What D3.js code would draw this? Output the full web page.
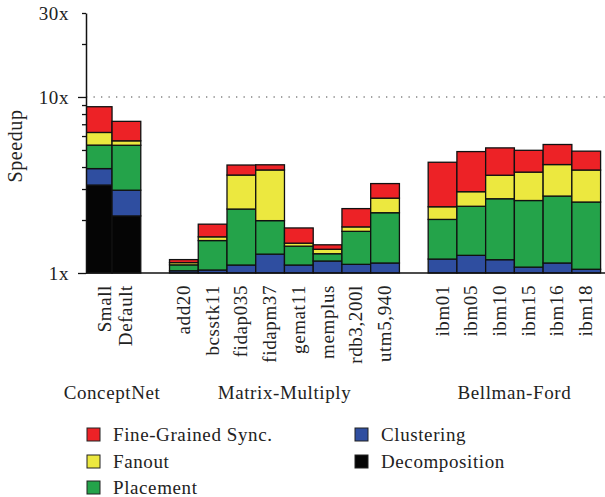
<!DOCTYPE html>
<html>
<head>
<meta charset="utf-8">
<script src="https://cdn.jsdelivr.net/npm/d3@7/dist/d3.min.js"></script>
<style>
  html, body { margin: 0; padding: 0; background: #fff; }
  svg { display: block; }
  text { font-family: "Liberation Serif", "DejaVu Serif", serif; fill: #222; letter-spacing: 0.6px; }
</style>
</head>
<body>
<svg id="chart" width="605" height="497"></svg>
<script>
// Benchmarks, grouped by application; a spacer slot separates the groups
const groups = [
  { name: "ConceptNet", benchmarks: ["Small", "Default"] },
  { name: "Matrix-Multiply", benchmarks: ["add20", "bcsstk11", "fidap035", "fidapm37", "gemat11", "memplus", "rdb3,200l", "utm5,940"] },
  { name: "Bellman-Ford", benchmarks: ["ibm01", "ibm05", "ibm10", "ibm15", "ibm16", "ibm18"] }
];

// Series, stacked bottom to top; each value is the multiplicative speedup added by that technique
const seriesNames = ["Decomposition", "Clustering", "Placement", "Fanout", "Fine-Grained Sync."];
const seriesColors = ["#050505", "#2f4ea0", "#24a34a", "#ece83f", "#ed2226"];

const decomposition = [3.16, 2.11, 1, 1, 1, 1, 1, 1, 1, 1, 1, 1, 1, 1, 1, 1];
const clustering    = [1.24, 1.40, 1.03, 1.04, 1.11, 1.28, 1.11, 1.17, 1.12, 1.14, 1.20, 1.26, 1.19, 1.08, 1.14, 1.05];
const placement     = [1.36, 1.80, 1.08, 1.47, 2.08, 1.55, 1.28, 1.10, 1.54, 1.93, 1.68, 1.90, 2.22, 2.39, 2.40, 2.41];
const fanout        = [1.18, 1.06, 1.03, 1.05, 1.56, 1.94, 1.04, 1.06, 1.06, 1.21, 1.18, 1.21, 1.36, 1.45, 1.51, 1.52];
const fineGrained   = [1.40, 1.29, 1.04, 1.18, 1.14, 1.07, 1.22, 1.06, 1.27, 1.21, 1.79, 1.69, 1.43, 1.33, 1.30, 1.28];

const yTickValues = [1, 2, 3, 4, 5, 6, 7, 8, 9, 10, 20, 30];
const yTickLabels = { 1: "1x", 10: "10x", 30: "30x" };
const yLabel = "Speedup";

// ---- layout ----
const svg = d3.select("#chart");
const axisX = 86, baseY = 273, topY = 13;
const fontSize = 19;

const slots = [];
groups.forEach((g, gi) => {
  if (gi > 0) slots.push("gap" + gi);
  g.benchmarks.forEach(b => slots.push(b));
});
const benchmarks = groups.flatMap(g => g.benchmarks);

const x = d3.scaleBand().domain(slots).range([83.3, 600.6]).padding(0);
const y = d3.scaleLog().domain([1, 30]).range([baseY, topY]);

// stacked (cumulative product) levels per benchmark
const factorSeries = [decomposition, clustering, placement, fanout, fineGrained];
const segments = [];
benchmarks.forEach((b, i) => {
  let level = 1;
  factorSeries.forEach((arr, s) => {
    const lo = level;
    level = level * arr[i];
    if (arr[i] > 1.0001) segments.push({ bench: b, series: s, lo, hi: level });
  });
});

// clip so the first bar sits against the axis
svg.append("defs").append("clipPath").attr("id", "plotClip")
  .append("rect").attr("x", axisX).attr("y", 0).attr("width", 605 - axisX).attr("height", baseY + 1);

// dotted reference line at 10x
svg.append("line")
  .attr("x1", axisX).attr("x2", 605)
  .attr("y1", y(10)).attr("y2", y(10))
  .attr("stroke", "#444").attr("stroke-width", 1.2)
  .attr("stroke-dasharray", "1.3,6.2");

// bars
svg.append("g").attr("clip-path", "url(#plotClip)")
  .selectAll("rect").data(segments).join("rect")
  .attr("x", d => x(d.bench))
  .attr("width", x.bandwidth())
  .attr("y", d => y(d.hi))
  .attr("height", d => y(d.lo) - y(d.hi))
  .attr("fill", d => seriesColors[d.series])
  .attr("stroke", "#111")
  .attr("stroke-width", 1.3);

// y axis
const yAxis = d3.axisLeft(y)
  .tickValues(yTickValues)
  .tickSizeInner(4).tickSizeOuter(0).tickPadding(13)
  .tickFormat(v => yTickLabels[v] || "");
const yg = svg.append("g").attr("transform", `translate(${axisX},0)`).call(yAxis);
yg.select(".domain").attr("stroke", "#111").attr("stroke-width", 1.5);
yg.selectAll(".tick line").attr("stroke", "#111").attr("stroke-width", 1.3)
  .attr("x2", v => (v === 1 || v === 10) ? -8 : -4);
yg.selectAll(".tick text")
  .attr("font-family", "Liberation Serif, DejaVu Serif, serif")
  .attr("font-size", fontSize).attr("fill", "#222");

// baseline
svg.append("line")
  .attr("x1", axisX).attr("x2", 605)
  .attr("y1", baseY).attr("y2", baseY)
  .attr("stroke", "#111").attr("stroke-width", 1.5);

// y label
svg.append("text")
  .attr("transform", `translate(22,146) rotate(-90)`)
  .attr("text-anchor", "middle")
  .attr("font-size", 20)
  .text(yLabel);

// benchmark labels
svg.append("g").selectAll("text").data(benchmarks).join("text")
  .attr("transform", (d, i) => {
    const cx = x(d) + x.bandwidth() / 2 + 6 + (i === 0 ? 7 : 0);
    return `translate(${cx},285) rotate(-90)`;
  })
  .attr("text-anchor", "end")
  .attr("font-size", fontSize)
  .text(d => d);

// group labels
svg.append("g").selectAll("text").data(groups).join("text")
  .attr("x", g => {
    const first = g.benchmarks[0], last = g.benchmarks[g.benchmarks.length - 1];
    return (x(first) + x(last) + x.bandwidth()) / 2;
  })
  .attr("y", 399)
  .attr("text-anchor", "middle")
  .attr("font-size", fontSize)
  .text(g => g.name);

// legend
const legendOrder = [4, 3, 2, 1, 0];
const legendPos = [[87, 428], [87, 455], [87, 481], [355, 428], [355, 455]];
const lg = svg.append("g").selectAll("g").data(legendOrder).join("g")
  .attr("transform", (s, i) => `translate(${legendPos[i][0]},${legendPos[i][1]})`);
lg.append("rect")
  .attr("width", 13).attr("height", 13)
  .attr("fill", s => seriesColors[s])
  .attr("stroke", "#222").attr("stroke-width", 1);
lg.append("text")
  .attr("x", 26).attr("y", 13)
  .attr("font-size", fontSize)
  .text(s => seriesNames[s]);
</script>
</body>
</html>
